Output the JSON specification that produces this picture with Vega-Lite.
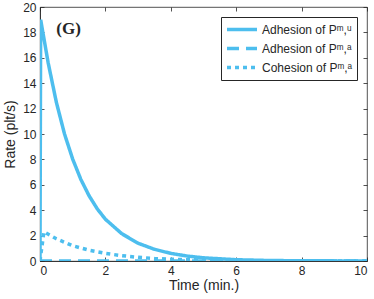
{
  "$schema": "https://vega.github.io/schema/vega-lite/v6.json",
  "width": 327,
  "height": 254,
  "autosize": {"type": "none"},
  "padding": {"left": 40, "top": 7, "right": 7, "bottom": 38},
  "background": "white",
  "config": {
    "view": {"stroke": "#262626", "strokeWidth": 0.8},
    "font": "Liberation Sans",
    "axis": {
      "grid": false,
      "domainColor": "#262626",
      "domainWidth": 0.8,
      "tickColor": "#262626",
      "tickWidth": 0.8,
      "tickSize": -4,
      "labelFont": "Liberation Sans",
      "labelFontSize": 12,
      "labelColor": "#262626",
      "labelPadding": 8,
      "titleFont": "Liberation Sans",
      "titleFontSize": 14,
      "titleFontWeight": "normal",
      "titleColor": "#262626"
    }
  },
  "datasets": {
    "lines": [
      {"t": 0, "v": 0, "s": "Adhesion of Pᵐ,ᵘ"},
      {"t": 0.02, "v": 19, "s": "Adhesion of Pᵐ,ᵘ"},
      {"t": 0.25, "v": 15.6, "s": "Adhesion of Pᵐ,ᵘ"},
      {"t": 0.5, "v": 12.5, "s": "Adhesion of Pᵐ,ᵘ"},
      {"t": 0.75, "v": 10.0, "s": "Adhesion of Pᵐ,ᵘ"},
      {"t": 1.0, "v": 8.02, "s": "Adhesion of Pᵐ,ᵘ"},
      {"t": 1.25, "v": 6.42, "s": "Adhesion of Pᵐ,ᵘ"},
      {"t": 1.5, "v": 5.14, "s": "Adhesion of Pᵐ,ᵘ"},
      {"t": 1.75, "v": 4.11, "s": "Adhesion of Pᵐ,ᵘ"},
      {"t": 2.0, "v": 3.29, "s": "Adhesion of Pᵐ,ᵘ"},
      {"t": 2.5, "v": 2.15, "s": "Adhesion of Pᵐ,ᵘ"},
      {"t": 3.0, "v": 1.4, "s": "Adhesion of Pᵐ,ᵘ"},
      {"t": 3.5, "v": 0.92, "s": "Adhesion of Pᵐ,ᵘ"},
      {"t": 4.0, "v": 0.6, "s": "Adhesion of Pᵐ,ᵘ"},
      {"t": 4.5, "v": 0.39, "s": "Adhesion of Pᵐ,ᵘ"},
      {"t": 5.0, "v": 0.25, "s": "Adhesion of Pᵐ,ᵘ"},
      {"t": 6.0, "v": 0.1, "s": "Adhesion of Pᵐ,ᵘ"},
      {"t": 7.0, "v": 0.04, "s": "Adhesion of Pᵐ,ᵘ"},
      {"t": 8.0, "v": 0.016, "s": "Adhesion of Pᵐ,ᵘ"},
      {"t": 10.0, "v": 0.003, "s": "Adhesion of Pᵐ,ᵘ"},
      {"t": 0, "v": 0, "s": "Adhesion of Pᵐ,ᵃ"},
      {"t": 10, "v": 0, "s": "Adhesion of Pᵐ,ᵃ"},
      {"t": 0, "v": 0, "s": "Cohesion of Pᵐ,ᵃ"},
      {"t": 0.12, "v": 2.3, "s": "Cohesion of Pᵐ,ᵃ"},
      {"t": 0.5, "v": 1.75, "s": "Cohesion of Pᵐ,ᵃ"},
      {"t": 1.0, "v": 1.2, "s": "Cohesion of Pᵐ,ᵃ"},
      {"t": 1.5, "v": 0.85, "s": "Cohesion of Pᵐ,ᵃ"},
      {"t": 2.0, "v": 0.6, "s": "Cohesion of Pᵐ,ᵃ"},
      {"t": 2.5, "v": 0.42, "s": "Cohesion of Pᵐ,ᵃ"},
      {"t": 3.0, "v": 0.29, "s": "Cohesion of Pᵐ,ᵃ"},
      {"t": 3.5, "v": 0.2, "s": "Cohesion of Pᵐ,ᵃ"},
      {"t": 4.0, "v": 0.14, "s": "Cohesion of Pᵐ,ᵃ"},
      {"t": 5.0, "v": 0.07, "s": "Cohesion of Pᵐ,ᵃ"},
      {"t": 6.0, "v": 0.03, "s": "Cohesion of Pᵐ,ᵃ"},
      {"t": 8.0, "v": 0.006, "s": "Cohesion of Pᵐ,ᵃ"},
      {"t": 10.0, "v": 0.001, "s": "Cohesion of Pᵐ,ᵃ"}
    ],
    "label": [{"x": 0.5, "y": 18.3, "txt": "(G)"}]
  },
  "layer": [
    {
      "data": {"name": "lines"},
      "mark": {"type": "line", "strokeWidth": 3.5, "color": "#4DBEEE", "clip": true},
      "encoding": {
        "x": {
          "field": "t", "type": "quantitative",
          "scale": {"domain": [0, 10], "nice": false},
          "axis": {"values": [0, 2, 4, 6, 8, 10], "title": "Time (min.)", "titlePadding": 2}
        },
        "y": {
          "field": "v", "type": "quantitative",
          "scale": {"domain": [0, 20], "nice": false},
          "axis": {"values": [0, 2, 4, 6, 8, 10, 12, 14, 16, 18, 20], "title": "Rate (plt/s)", "titlePadding": 5}
        },
        "strokeDash": {
          "field": "s", "type": "nominal",
          "sort": ["Adhesion of Pᵐ,ᵘ", "Adhesion of Pᵐ,ᵃ", "Cohesion of Pᵐ,ᵃ"],
          "scale": {
            "domain": ["Adhesion of Pᵐ,ᵘ", "Adhesion of Pᵐ,ᵃ", "Cohesion of Pᵐ,ᵃ"],
            "range": [[1, 0], [12, 7], [4, 4]]
          },
          "legend": {
            "title": null,
            "orient": "top-right",
            "offset": 10,
            "strokeColor": "#262626",
            "fillColor": "white",
            "padding": 4,
            "symbolType": "stroke",
            "symbolSize": 900,
            "symbolStrokeWidth": 3.5,
            "symbolStrokeColor": "#4DBEEE",
            "clipHeight": 17,
            "labelFont": "Liberation Sans",
            "labelFontSize": 12,
            "labelColor": "#262626",
            "rowPadding": 2,
            "labelOffset": 3
          }
        }
      }
    },
    {
      "data": {"name": "label"},
      "mark": {"type": "text", "font": "Liberation Serif", "fontWeight": "bold", "fontSize": 17, "align": "left", "baseline": "middle", "color": "#262626"},
      "encoding": {
        "x": {"field": "x", "type": "quantitative", "axis": null},
        "y": {"field": "y", "type": "quantitative", "axis": null},
        "text": {"field": "txt"}
      }
    },
    {
      "data": {"name": "label"},
      "mark": {"type": "point", "opacity": 0},
      "encoding": {
        "x": {"field": "x", "type": "quantitative", "axis": {"orient": "top", "values": [0, 2, 4, 6, 8, 10], "labels": false, "title": null, "domain": false}},
        "y": {"field": "y", "type": "quantitative", "axis": {"orient": "right", "values": [0, 2, 4, 6, 8, 10, 12, 14, 16, 18, 20], "labels": false, "title": null, "domain": false}}
      }
    }
  ],
  "resolve": {"axis": {"x": "independent", "y": "independent"}}
}
